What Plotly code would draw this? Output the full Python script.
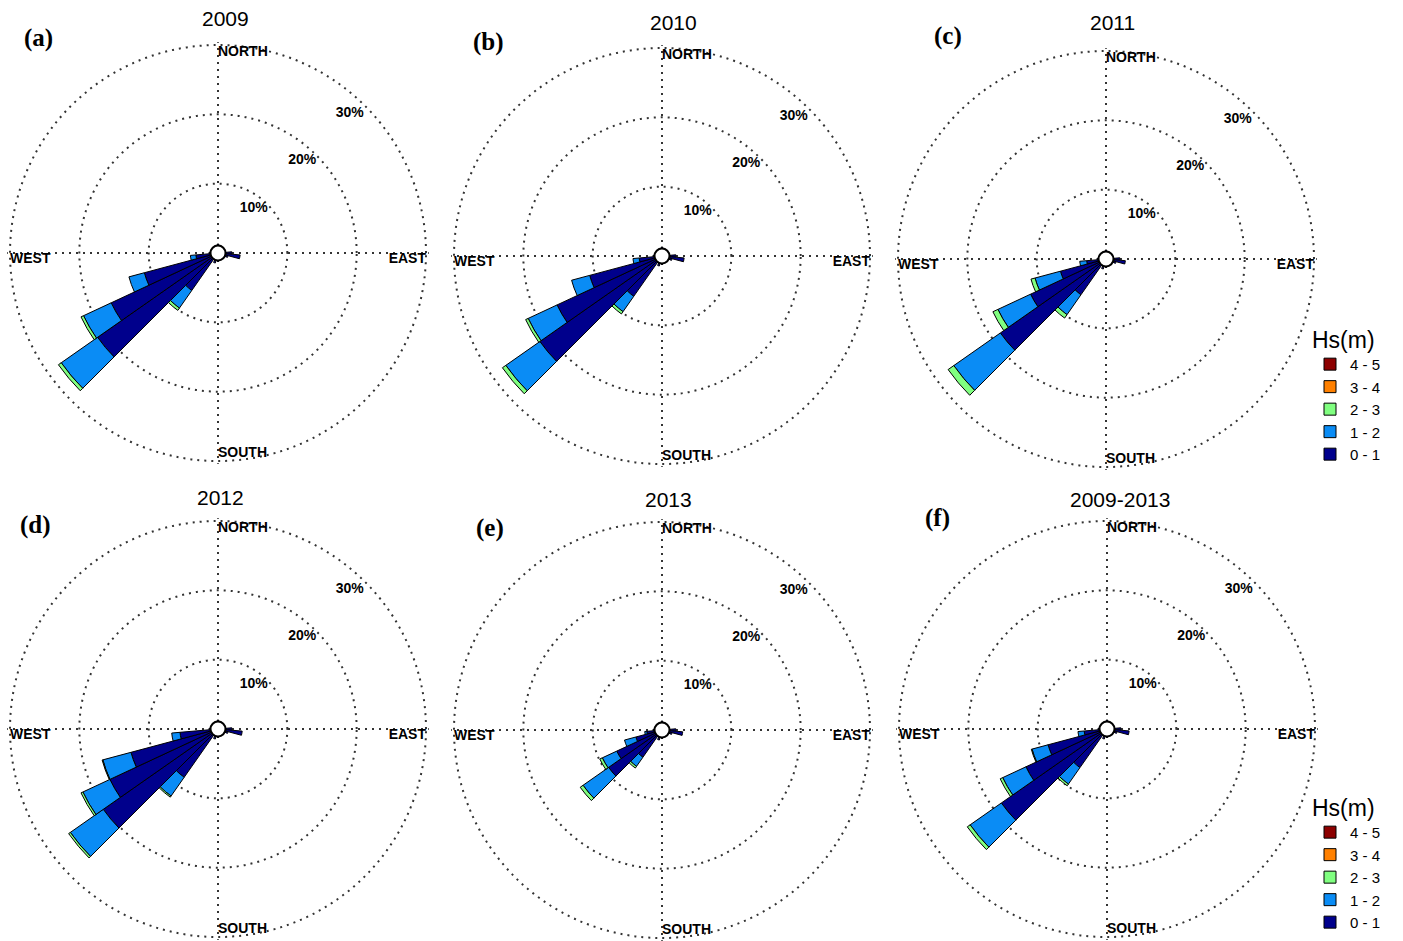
import plotly.graph_objects as go

# ---------------- data ----------------
DIRS = [0, 80, 90, 100, 110, 180, 200, 210, 220, 230, 240, 250, 260, 270]
CLASSES = ["0 - 1", "1 - 2", "2 - 3", "3 - 4", "4 - 5"]
PANEL_TITLES = ["2009", "2010", "2011", "2012", "2013", "2009-2013"]
PANEL_LABELS = ["(a)", "(b)", "(c)", "(d)", "(e)", "(f)"]
COMPASS = ["NORTH", "EAST", "SOUTH", "WEST"]
RING_LABELS = ["10%", "20%", "30%"]
RING_VALUES = [10, 20, 30]

HS01_2009 = [1.3, 1.0, 2.0, 3.2, 1.5, 1.2, 1.5, 1.0, 6.6, 21.2, 17.0, 11.0, 3.2, 1.3]
HS12_2009 = [0, 0, 0, 0, 0, 0, 0, 0, 3.1, 6.4, 4.4, 2.3, 0.8, 0]
HS23_2009 = [0, 0, 0, 0, 0, 0, 0, 0, 0.4, 0.5, 0.4, 0.0, 0.0, 0]

HS01_2010 = [1.3, 1.0, 2.0, 3.2, 1.5, 1.2, 1.5, 1.0, 7.1, 21.5, 16.7, 10.8, 3.3, 1.3]
HS12_2010 = [0, 0, 0, 0, 0, 0, 0, 0, 2.7, 6.0, 4.6, 2.7, 0.9, 0]
HS23_2010 = [0, 0, 0, 0, 0, 0, 0, 0, 0.4, 0.6, 0.4, 0.0, 0.0, 0]

HS01_2011 = [1.3, 1.0, 2.0, 2.8, 1.5, 1.2, 1.5, 1.0, 6.3, 18.6, 12.0, 6.8, 2.8, 1.3]
HS12_2011 = [0, 0, 0, 0, 0, 0, 0, 0, 3.5, 8.2, 5.2, 3.8, 1.0, 0]
HS23_2011 = [0, 0, 0, 0, 0, 0, 0, 0, 0.6, 1.0, 0.8, 0.6, 0.0, 0]

HS01_2012 = [1.3, 1.0, 2.0, 3.5, 1.5, 1.2, 1.5, 1.0, 8.5, 20.2, 17.2, 13.0, 5.5, 1.3]
HS12_2012 = [0, 0, 0, 0, 0, 0, 0, 0, 3.3, 5.8, 4.3, 4.2, 1.2, 0]
HS23_2012 = [0, 0, 0, 0, 0, 0, 0, 0, 0.2, 0.3, 0.3, 0.1, 0.0, 0]

HS01_2013 = [1.3, 1.0, 2.0, 3.0, 1.5, 1.2, 1.5, 1.0, 4.8, 9.4, 7.2, 3.9, 2.2, 1.3]
HS12_2013 = [0, 0, 0, 0, 0, 0, 0, 0, 1.6, 4.5, 2.3, 1.7, 0.3, 0]
HS23_2013 = [0, 0, 0, 0, 0, 0, 0, 0, 0.3, 0.5, 0.4, 0.0, 0.0, 0]

HS01_ALL = [1.3, 1.0, 2.0, 3.2, 1.5, 1.2, 1.5, 1.0, 6.8, 18.6, 12.9, 8.8, 3.3, 1.3]
HS12_ALL = [0, 0, 0, 0, 0, 0, 0, 0, 2.9, 5.5, 3.7, 2.4, 0.9, 0]
HS23_ALL = [0, 0, 0, 0, 0, 0, 0, 0, 0.3, 0.5, 0.4, 0.1, 0.0, 0]

HS34 = [0] * len(DIRS)
HS45 = [0] * len(DIRS)

PANEL_DATA = [
    [HS01_2009, HS12_2009, HS23_2009, HS34, HS45],
    [HS01_2010, HS12_2010, HS23_2010, HS34, HS45],
    [HS01_2011, HS12_2011, HS23_2011, HS34, HS45],
    [HS01_2012, HS12_2012, HS23_2012, HS34, HS45],
    [HS01_2013, HS12_2013, HS23_2013, HS34, HS45],
    [HS01_ALL, HS12_ALL, HS23_ALL, HS34, HS45],
]

# ---------------- style / layout ----------------
COLORS = ["#00008C", "#0A8CF5", "#80FF80", "#FF8000", "#8C0000"]
W, H = 1403, 941
R_MAX = 30.4
R_PX = 208 * R_MAX / 30.0
CENTERS = [(218, 253), (662, 256), (1106, 259), (218, 729), (662, 730), (1107, 729)]
TITLE_POS = [(225, 18), (673, 22), (1112, 23), (220, 498), (668, 500), (1120, 500)]
LABEL_POS = [(38, 38), (488, 42), (948, 36), (35, 525), (490, 528), (937, 518)]

fig = go.Figure()
layout = dict(width=W, height=H,
              margin=dict(l=0, r=0, t=0, b=0, autoexpand=False),
              paper_bgcolor="white", plot_bgcolor="white", barmode="stack",
              showlegend=True)

grid_common = dict(gridcolor="#333", gridwidth=1.8, griddash="2px,5px")
label_font = dict(family="Liberation Sans", size=14, color="black", weight="bold")

annotations = []
for i in range(6):
    pname = "polar" if i == 0 else f"polar{i+1}"
    cx, cy = CENTERS[i]
    layout[pname] = dict(
        domain=dict(x=[(cx - R_PX) / W, (cx + R_PX) / W],
                    y=[1 - (cy + R_PX) / H, 1 - (cy - R_PX) / H]),
        bgcolor="white",
        barmode="stack",
        radialaxis=dict(range=[0, R_MAX], tickvals=RING_VALUES, showticklabels=False,
                        showline=False, ticks="", **grid_common),
        angularaxis=dict(rotation=90, direction="clockwise", tickvals=[0, 90, 180, 270],
                         showticklabels=False, ticks="", showline=False, **grid_common),
    )
    sub = pname
    legend_name = None
    if i == 2:
        legend_name = "legend"
    elif i == 5:
        legend_name = "legend2"
    for k, cls in enumerate(CLASSES):
        tr = go.Barpolar(
            r=PANEL_DATA[i][k], theta=DIRS, width=10, name=cls,
            marker=dict(color=COLORS[k], line=dict(color="black", width=1)),
            subplot=sub, showlegend=legend_name is not None,
        )
        if legend_name:
            tr.legend = legend_name
        fig.add_trace(tr)
    # center circle
    fig.add_trace(go.Scatterpolar(r=[0], theta=[0], mode="markers", subplot=sub,
                                  marker=dict(size=15, color="white",
                                              line=dict(color="black", width=2)),
                                  showlegend=False, hoverinfo="skip"))
    # compass labels
    fig.add_trace(go.Scatterpolar(
        r=[30, 30, 30, 30], theta=[0, 90, 180, 270], mode="text", text=COMPASS,
        textposition=["bottom right", "bottom left", "top right", "bottom right"],
        textfont=label_font,
        subplot=sub, showlegend=False, hoverinfo="skip", cliponaxis=False))
    # ring labels
    fig.add_trace(go.Scatterpolar(
        r=[8.2, 18.0, 27.7], theta=[39, 42.4, 43.3], mode="text", text=RING_LABELS,
        textposition="middle center",
        textfont=label_font,
        subplot=sub, showlegend=False, hoverinfo="skip", cliponaxis=False))
    tx, ty = TITLE_POS[i]
    annotations.append(dict(x=tx / W, y=1 - ty / H, xref="paper", yref="paper",
                            xanchor="center", yanchor="middle",
                            text=PANEL_TITLES[i], showarrow=False,
                            font=dict(family="Liberation Sans", size=21, color="black")))
    lx, ly = LABEL_POS[i]
    annotations.append(dict(x=lx / W, y=1 - ly / H, xref="paper", yref="paper",
                            xanchor="center", yanchor="middle",
                            text=PANEL_LABELS[i], showarrow=False,
                            font=dict(family="Liberation Serif", size=25, color="black",
                                      weight="bold")))

leg_common = dict(xanchor="left", yanchor="top", traceorder="reversed",
                  bgcolor="rgba(0,0,0,0)", itemclick=False,
                  font=dict(family="Liberation Sans", size=15, color="black"),
                  title=dict(text="Hs(m)", font=dict(family="Liberation Sans", size=23,
                                                     color="black"), side="top"),
                  tracegroupgap=0, itemwidth=30)
layout["legend"] = dict(x=1310 / W, y=1 - 318 / H, **leg_common)
layout["legend2"] = dict(x=1310 / W, y=1 - 786 / H, **leg_common)
layout["annotations"] = annotations
fig.update_layout(**layout)

fig.write_html("out.html")
